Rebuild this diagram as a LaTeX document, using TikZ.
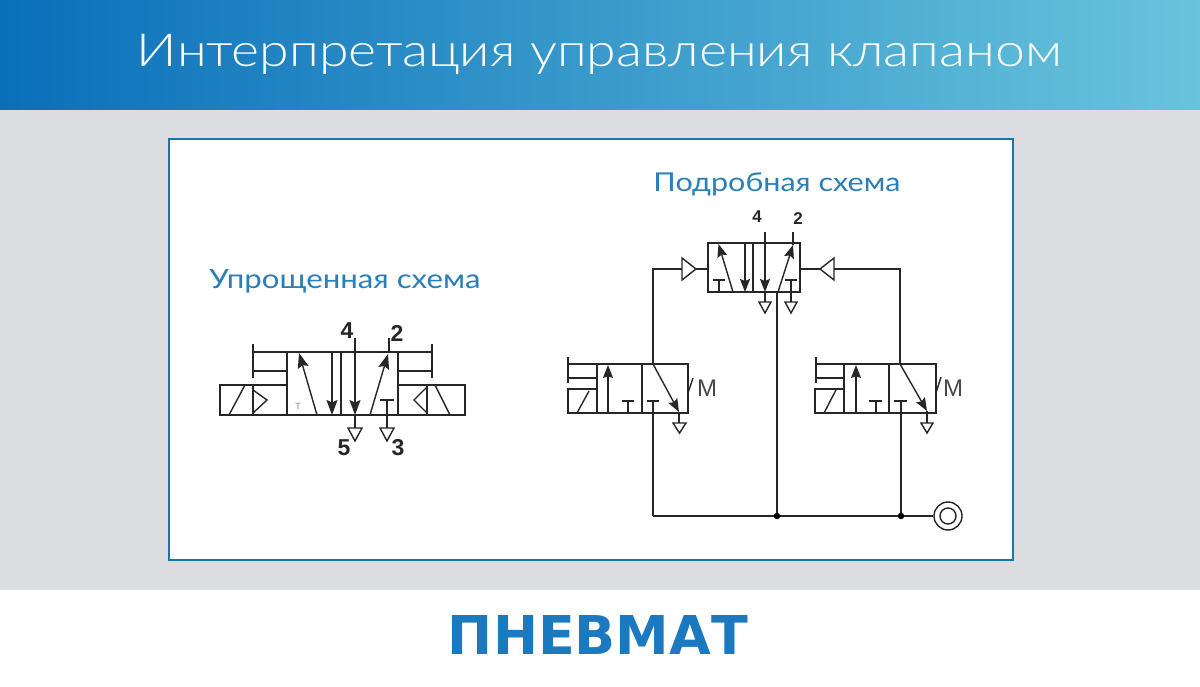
\documentclass[tikz,border=0pt]{standalone}
\usepackage{fontspec}
\usepackage{graphicx}
\setmainfont{Liberation Sans}
\newfontfamily\ttlfont{Lato Light}
\newfontfamily\subfont{Lato}
\newfontfamily\logofont{DejaVu Sans}[BoldFont={DejaVu Sans Bold}]
\usetikzlibrary{arrows.meta}
\definecolor{ink}{HTML}{262626}
\definecolor{brand}{HTML}{1B7ABF}
\definecolor{frame}{HTML}{1A74AE}
\definecolor{subttl}{HTML}{2B7FB8}
\definecolor{pagegray}{HTML}{DCDDE1}
\definecolor{headl}{HTML}{0A6FBA}
\definecolor{headr}{HTML}{68C4DC}
\tikzset{
  pipe/.style={draw=ink,line width=1.4pt,line join=miter},
  flow/.style={pipe,-{Stealth[length=15pt,width=11pt,inset=2.5pt]}},
  flowsmall/.style={pipe,-{Stealth[length=13pt,width=10pt,inset=2pt]}},
  num/.style={font=\bfseries\fontsize{23}{23}\selectfont,text=ink,inner sep=0pt},
  numsmall/.style={font=\bfseries\fontsize{17}{17}\selectfont,text=ink,inner sep=0pt},
  letter/.style={font=\fontsize{24}{24}\selectfont,text=ink!85,inner sep=0pt},
  sub/.style={anchor=base,inner sep=0pt,text=subttl},
  junction/.style={circle,fill=black,inner sep=0pt,minimum size=6.5pt},
}
\begin{document}
\begin{tikzpicture}[x=1pt,y=-1pt]
\useasboundingbox (0,0) rectangle (1200,687);
% backgrounds
\fill[white] (0,0) rectangle (1200,687);
\fill[pagegray] (0,110) rectangle (1200,590);
\shade[left color=headl,right color=headr,shading angle=90,draw=none] (0,0) rectangle (1200,110);
\draw[fill=white,draw=frame,line width=2.5pt] (169,139) rectangle (1013,560);
% texts
\node[anchor=base,inner sep=0pt,text=white] (title) at (599.5,67) {\resizebox{925pt}{!}{\scalebox{1}[0.85]{\ttlfont Интерпретация управления клапаном}}};
\node[sub] (subA) at (345,288) {\resizebox{271pt}{!}{\scalebox{1}[0.85]{\subfont Упрощенная схема}}};
\node[sub] (subB) at (777,192) {\resizebox{247pt}{!}{\scalebox{1}[0.85]{\subfont Подробная схема}}};
\node[anchor=base,inner sep=0pt,text=brand] (logo) at (598,654) {\resizebox{300pt}{39pt}{\logofont\bfseries ПНЕВМАТ}};

% ---------- simplified valve
\draw[pipe] (287,352) rectangle (398,415);
\draw[pipe] (341,352) -- (341,415);
\draw[pipe] (220,385) rectangle (287,415);
\draw[pipe] (253,385) -- (253,415);
\draw[pipe] (229,415) -- (245,385);
\draw[pipe] (253,390) -- (267,400) -- (253,413);
\draw[pipe] (253,344) -- (253,378);
\draw[pipe] (253,352) -- (287,352);
\draw[pipe] (253,371) -- (287,371);
\draw[pipe] (398,385) rectangle (465,415);
\draw[pipe] (427,385) -- (427,415);
\draw[pipe] (435,385) -- (450,415);
\draw[pipe] (427,387) -- (414,400) -- (427,413);
\draw[pipe] (432,344) -- (432,378);
\draw[pipe] (398,352) -- (432,352);
\draw[pipe] (398,371) -- (432,371);
\draw[flow] (317,415) -- (299,353);
\draw[flow] (332,352) -- (332,415);
\draw[flow] (355,338) -- (355,415);
\draw[pipe] (355,415) -- (355,428);
\draw[pipe] (348,428) -- (362,428) -- (355,441) -- cycle;
\draw[flow] (370,415) -- (388,354);
\draw[pipe] (389,338) -- (389,353);
\draw[pipe] (380,400) -- (394,400);
\draw[pipe] (387,400) -- (387,428);
\draw[pipe] (380,428) -- (394,428) -- (387,441) -- cycle;
\node[inner sep=0pt,text=ink!55,font=\fontsize{9}{9}\selectfont] (tmark) at (298,406) {T};
\node[num] (n4) at (347,331) {4};
\node[num] (n2) at (397,333) {2};
\node[num] (n5) at (344,448) {5};
\node[num] (n3) at (398,448) {3};

% ---------- pilot valve (top)
\draw[pipe] (708,243) rectangle (800,292);
\draw[pipe] (753,243) -- (753,292);
\draw[flowsmall] (745,243) -- (745,292);
\draw[flowsmall] (765,232) -- (765,292);
\draw[pipe] (765,292) -- (765,302);
\draw[pipe] (759,302) -- (771,302) -- (765,313) -- cycle;
\draw[flowsmall] (733,292) -- (718.5,244);
\draw[pipe] (713,280) -- (725,280);
\draw[pipe] (719,280) -- (719,292);
\draw[flowsmall] (778,292) -- (793,245);
\draw[pipe] (793,232) -- (793,245);
\draw[pipe] (785,280) -- (797,280);
\draw[pipe] (791,280) -- (791,302);
\draw[pipe] (785,302) -- (797,302) -- (791,313) -- cycle;
\node[numsmall] (m4) at (757,217) {4};
\node[numsmall] (m2) at (798,219) {2};
% pilot inlets
\draw[pipe] (682,258) -- (682,280) -- (696,269) -- cycle;
\draw[pipe] (696,269) -- (708,269);
\draw[pipe] (834,258) -- (834,280) -- (820,269) -- cycle;
\draw[pipe] (800,269) -- (820,269);

% ---------- lower left valve
\draw[pipe] (597,364) rectangle (688,413);
\draw[pipe] (642,364) -- (642,413);
\draw[pipe] (568,357) -- (568,383);
\draw[pipe] (568,364) -- (597,364);
\draw[pipe] (568,378) -- (597,378);
\draw[pipe] (568,389) rectangle (597,413);
\draw[pipe] (577,413) -- (589,391);
\draw[flowsmall] (608,413) -- (608,365);
\draw[pipe] (622,401) -- (634,401);
\draw[pipe] (628,401) -- (628,413);
\draw[pipe] (647,401) -- (659,401);
\draw[flowsmall] (653,364) -- (679,412);
\draw[pipe] (679,412) -- (679,423);
\draw[pipe] (673,423) -- (686,423) -- (679.5,433) -- cycle;
\draw[pipe] (693,378) -- (688,393);
\node[letter] (ml) at (707,388) {M};

% ---------- lower right valve
\draw[pipe] (844,364) rectangle (936,413);
\draw[pipe] (889,364) -- (889,413);
\draw[pipe] (816,357) -- (816,383);
\draw[pipe] (816,364) -- (844,364);
\draw[pipe] (816,378) -- (844,378);
\draw[pipe] (815,389) rectangle (844,413);
\draw[pipe] (824,413) -- (836,390);
\draw[flowsmall] (856,413) -- (856,365);
\draw[pipe] (869,401) -- (882,401);
\draw[pipe] (876,401) -- (876,413);
\draw[pipe] (894,401) -- (907,401);
\draw[flowsmall] (900,364) -- (927,411);
\draw[pipe] (927,411) -- (927,423);
\draw[pipe] (921,423) -- (933,423) -- (927,433) -- cycle;
\draw[pipe] (941,377) -- (936,393);
\node[letter] (mr) at (953,388) {M};

% ---------- supply network
\node[junction] (j1) at (777,516) {};
\node[junction] (j2) at (901,516) {};
\node[circle,draw=ink,line width=1.4pt,minimum size=28pt,inner sep=0pt,fill=white] (src) at (948,516) {};
\node[circle,draw=ink,line width=1.4pt,minimum size=16pt,inner sep=0pt] (srcin) at (948,516) {};
\coordinate (lv) at (653,516);
\draw[pipe] (lv) -- (j1) -- (j2) -- (src);
\draw[pipe] (653,401) -- (lv);
\draw[pipe] (777,292) -- (j1);
\draw[pipe] (901,401) -- (j2);
\draw[pipe] (682,269) -- (653,269) -- (653,364);
\draw[pipe] (834,269) -- (900,269) -- (900,364);
\end{tikzpicture}
\end{document}
